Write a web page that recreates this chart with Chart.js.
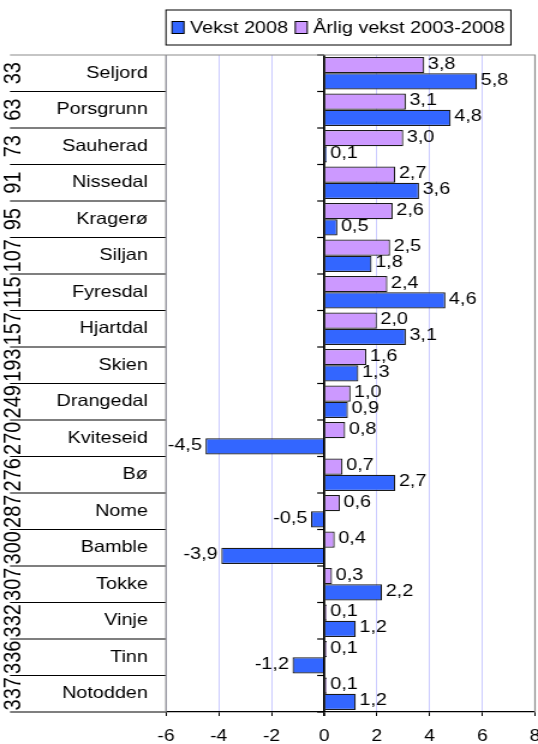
<!DOCTYPE html>
<html>
<head>
<meta charset="utf-8">
<script src="https://cdn.jsdelivr.net/npm/chart.js@4.4.1/dist/chart.umd.min.js"></script>
<style>
  html, body { margin: 0; padding: 0; background: #fff; overflow: hidden; }
  /* the original chart is stretched sideways, so we stretch the canvas the same way */
  #wrap { width: 448px; height: 744px; transform: scaleX(1.2009); transform-origin: 0 0; }
</style>
</head>
<body>
<div id="wrap"><canvas id="chart"></canvas></div>
<script>
const categories = ["Seljord", "Porsgrunn", "Sauherad", "Nissedal", "Kragerø", "Siljan", "Fyresdal", "Hjartdal", "Skien",
    "Drangedal", "Kviteseid", "Bø", "Nome", "Bamble", "Tokke", "Vinje", "Tinn", "Notodden"];
const ranks = [33, 63, 73, 91, 95, 107, 115, 157, 193, 249, 270, 276, 287, 300, 307, 332, 336, 337];
const annualGrowth = [3.8, 3.1, 3.0, 2.7, 2.6, 2.5, 2.4, 2.0, 1.6, 1.0, 0.8, 0.7, 0.6, 0.4, 0.3, 0.1, 0.1, 0.1];
const growth2008 = [5.8, 4.8, 0.1, 3.6, 0.5, 1.8, 4.6, 3.1, 1.3, 0.9, -4.5, 2.7, -0.5, -3.9, 2.2, 1.2, -1.2, 1.2];
const xTicks = [-6, -4, -2, 0, 2, 4, 6, 8];

const FONT = "'Liberation Sans', Arial, sans-serif";
const PLOT_LEFT = 138.2;
const BLUE = "#3366FF";
const PURPLE = "#CC99FF";

function fmt(v) {
    return v.toFixed(1).replace(".", ",");
}

const tablePlugin = {
    id: "table",

    afterDatasetsDraw(chart) {
        const ctx = chart.ctx;
        ctx.save();
        ctx.font = "16.5px " + FONT;
        ctx.fillStyle = "#000";
        ctx.textBaseline = "middle";
        chart.data.datasets.forEach((ds, i) => {
            chart.getDatasetMeta(i).data.forEach((bar, j) => {
                const v = ds.data[j];
                if (v >= 0) {
                    ctx.textAlign = "left";
                    ctx.fillText(fmt(v), bar.x + 3, bar.y - 1);
                } else {
                    ctx.textAlign = "right";
                    ctx.fillText(fmt(v), bar.x - 3, bar.y - 1);
                }
            });
        });
        ctx.restore();
    },

    afterDraw(chart) {
        const ctx = chart.ctx;
        const area = chart.chartArea;
        const y = chart.scales.y;
        const x = chart.scales.x;
        const step = (area.bottom - area.top) / categories.length;
        ctx.save();

        // row separators in the label table
        ctx.strokeStyle = "#000";
        ctx.lineWidth = 1.2;
        for (let i = 1; i <= categories.length; i++) {
            const yy = area.top + i * step;
            ctx.beginPath();
            ctx.moveTo(8.3, yy);
            ctx.lineTo(area.left, yy);
            ctx.stroke();
        }

        // small ticks on the zero line
        const x0 = x.getPixelForValue(0);
        for (let i = 0; i <= categories.length; i++) {
            const yy = area.top + i * step;
            ctx.beginPath();
            ctx.moveTo(x0 - 5.8, yy);
            ctx.lineTo(x0, yy);
            ctx.stroke();
        }

        // grey frame
        ctx.strokeStyle = "#8c8c8c";
        ctx.lineWidth = 1.2;
        ctx.beginPath();
        ctx.moveTo(8.3, area.top);
        ctx.lineTo(area.right, area.top);
        ctx.lineTo(area.right, area.bottom);
        ctx.moveTo(area.left, area.top);
        ctx.lineTo(area.left, area.bottom);
        ctx.stroke();

        // rank numbers, turned
        ctx.fillStyle = "#000";
        ctx.font = "20px " + FONT;
        ctx.textAlign = "center";
        ctx.textBaseline = "middle";
        ranks.forEach((r, i) => {
            ctx.save();
            ctx.translate(10.4, y.getPixelForValue(i));
            ctx.rotate(-Math.PI / 2);
            ctx.fillText(String(r), 0, 1);
            ctx.restore();
        });

        // legend with a box round it
        const items = [
            { label: chart.data.datasets[1].label, color: BLUE },
            { label: chart.data.datasets[0].label, color: PURPLE }
        ];
        ctx.font = "16.5px " + FONT;
        ctx.textAlign = "left";
        const boxW = 10, boxH = 12, gap = 5, itemGap = 6, pad = 5;
        let width = pad * 2;
        items.forEach((it, i) => {
            width += boxW + gap + ctx.measureText(it.label).width + (i ? 0 : itemGap);
        });
        const lx = PLOT_LEFT, ly = 10, lh = 35;
        ctx.strokeStyle = "#000";
        ctx.lineWidth = 1;
        ctx.strokeRect(lx, ly, width, lh);
        let cx = lx + pad;
        const cy = ly + lh / 2;
        items.forEach((it) => {
            ctx.fillStyle = it.color;
            ctx.fillRect(cx, cy - boxH / 2, boxW, boxH);
            ctx.strokeStyle = "#000";
            ctx.strokeRect(cx, cy - boxH / 2, boxW, boxH);
            cx += boxW + gap;
            ctx.fillStyle = "#000";
            ctx.fillText(it.label, cx, cy + 1);
            cx += ctx.measureText(it.label).width + itemGap;
        });

        ctx.restore();
    }
};

new Chart(document.getElementById("chart"), {
    type: "bar",
    data: {
        labels: categories,
        datasets: [
            {
                label: "Årlig vekst 2003-2008",
                data: annualGrowth,
                backgroundColor: PURPLE,
                borderColor: "#1a1a1a",
                borderWidth: 1.2,
                categoryPercentage: 0.89,
                barPercentage: 1
            },
            {
                label: "Vekst 2008",
                data: growth2008,
                backgroundColor: BLUE,
                borderColor: "#1a1a1a",
                borderWidth: 1.2,
                categoryPercentage: 0.89,
                barPercentage: 1
            }
        ]
    },
    options: {
        indexAxis: "y",
        responsive: true,
        maintainAspectRatio: false,
        animation: false,
        layout: { padding: { top: 55, right: 2.5, bottom: 0, left: 0 } },
        plugins: {
            legend: { display: false },
            tooltip: { enabled: false }
        },
        scales: {
            x: {
                min: xTicks[0],
                max: xTicks[xTicks.length - 1],
                afterBuildTicks: (scale) => {
                    scale.ticks = xTicks.map(v => ({ value: v }));
                },
                afterFit: (scale) => {
                    scale.height = 32;
                    scale.paddingLeft = 0;
                    scale.paddingRight = 0;
                },
                ticks: {
                    font: { size: 16, family: FONT },
                    color: "#000",
                    padding: 11,
                    maxRotation: 0,
                    callback: (v) => String(v)
                },
                grid: {
                    color: (c) => c.tick && c.tick.value === 0 ? "#000" : "#CCCCFF",
                    lineWidth: (c) => c.tick && c.tick.value === 0 ? 1.8 : 1,
                    tickColor: "#000",
                    tickLength: 4
                },
                border: { display: true, color: "#000", width: 1.3 }
            },
            y: {
                afterFit: (scale) => {
                    scale.width = PLOT_LEFT;
                },
                ticks: {
                    font: { size: 16.5, family: FONT },
                    color: "#000",
                    padding: 15
                },
                grid: { display: false, drawTicks: false },
                border: { display: false }
            }
        }
    },
    plugins: [tablePlugin]
});
</script>
</body>
</html>
